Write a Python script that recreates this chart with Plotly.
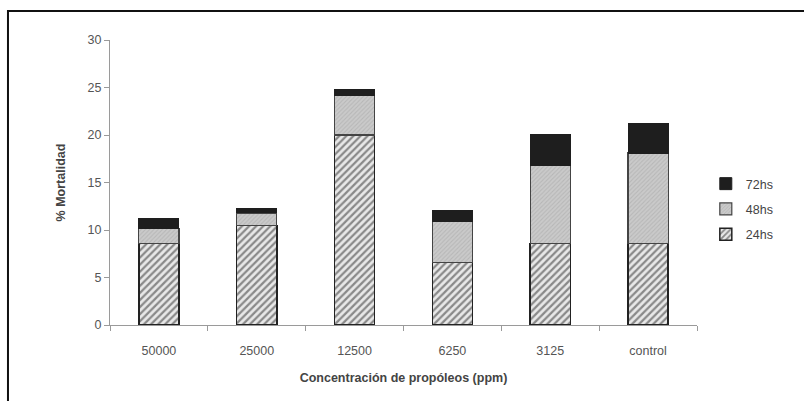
import plotly.graph_objects as go

categories = ["50000", "25000", "12500", "6250", "3125", "control"]
mort_24hs = [8.6, 10.5, 20.0, 6.6, 8.6, 8.6]
mort_48hs = [1.6, 1.3, 4.2, 4.3, 8.2, 9.5]
mort_72hs = [1.0, 0.5, 0.6, 1.2, 3.3, 3.1]
y_ticks = [0, 5, 10, 15, 20, 25, 30]

FONT = "Liberation Sans, Arial, sans-serif"

fig = go.Figure()
fig.add_trace(go.Bar(
    name="24hs", x=categories, y=mort_24hs, legendgroup="g24", legendrank=3,
    marker=dict(color="white",
                pattern=dict(shape="/", fgcolor="#2a2a2a", bgcolor="#e8e8e8",
                             size=5, solidity=0.45),
                line=dict(color="#222", width=1.5)),
))
fig.add_trace(go.Bar(
    name="48hs", x=categories, y=mort_48hs, legendgroup="g48", legendrank=2,
    marker=dict(color="#c4c4c4",
                pattern=dict(shape="/", fgcolor="#a4a4a4", bgcolor="#cacaca",
                             size=3, solidity=0.35),
                line=dict(color="#444", width=1.2)),
))
fig.add_trace(go.Bar(
    name="72hs", x=categories, y=mort_72hs, legendgroup="g72", legendrank=1,
    marker=dict(color="#1e1e1e", line=dict(color="#1e1e1e", width=1)),
))

fig.update_layout(
    barmode="stack",
    bargap=0.59,
    width=804, height=401,
    margin=dict(l=110, r=107, t=40, b=76),
    paper_bgcolor="white", plot_bgcolor="white",
    font=dict(family=FONT, size=12, color="#555"),
    legend=dict(traceorder="grouped", x=1.015, y=0.407, xanchor="left",
                yanchor="middle", font=dict(size=12.5, color="#444"),
                itemwidth=30, tracegroupgap=6, bgcolor="rgba(0,0,0,0)"),
    xaxis=dict(
        type="category", showline=True, linecolor="#9a9a9a", linewidth=1,
        ticks="outside", tickson="boundaries", ticklen=5, tickcolor="#9a9a9a",
        ticklabelstandoff=14,
        tickfont=dict(size=12.5, color="#555"),
        title=dict(text="<b>Concentración de propóleos (ppm)</b>",
                   font=dict(size=12.5, color="#444"), standoff=16),
        showgrid=False,
    ),
    yaxis=dict(
        range=[0, 30], tickvals=y_ticks, showline=True, linecolor="#9a9a9a",
        linewidth=1, ticks="outside", ticklen=5, tickcolor="#9a9a9a",
        tickfont=dict(size=12.5, color="#555"), showgrid=False, zeroline=False,
        title=dict(text="<b>% Mortalidad</b>", font=dict(size=12.5, color="#444"),
                   standoff=19),
    ),
    shapes=[dict(type="rect", xref="paper", yref="paper",
                 x0=-0.1738, x1=1.5, y0=-0.6, y1=1.1018,
                 line=dict(color="#111", width=2), fillcolor="rgba(0,0,0,0)",
                 layer="below")],
)

fig.write_html("out.html")
